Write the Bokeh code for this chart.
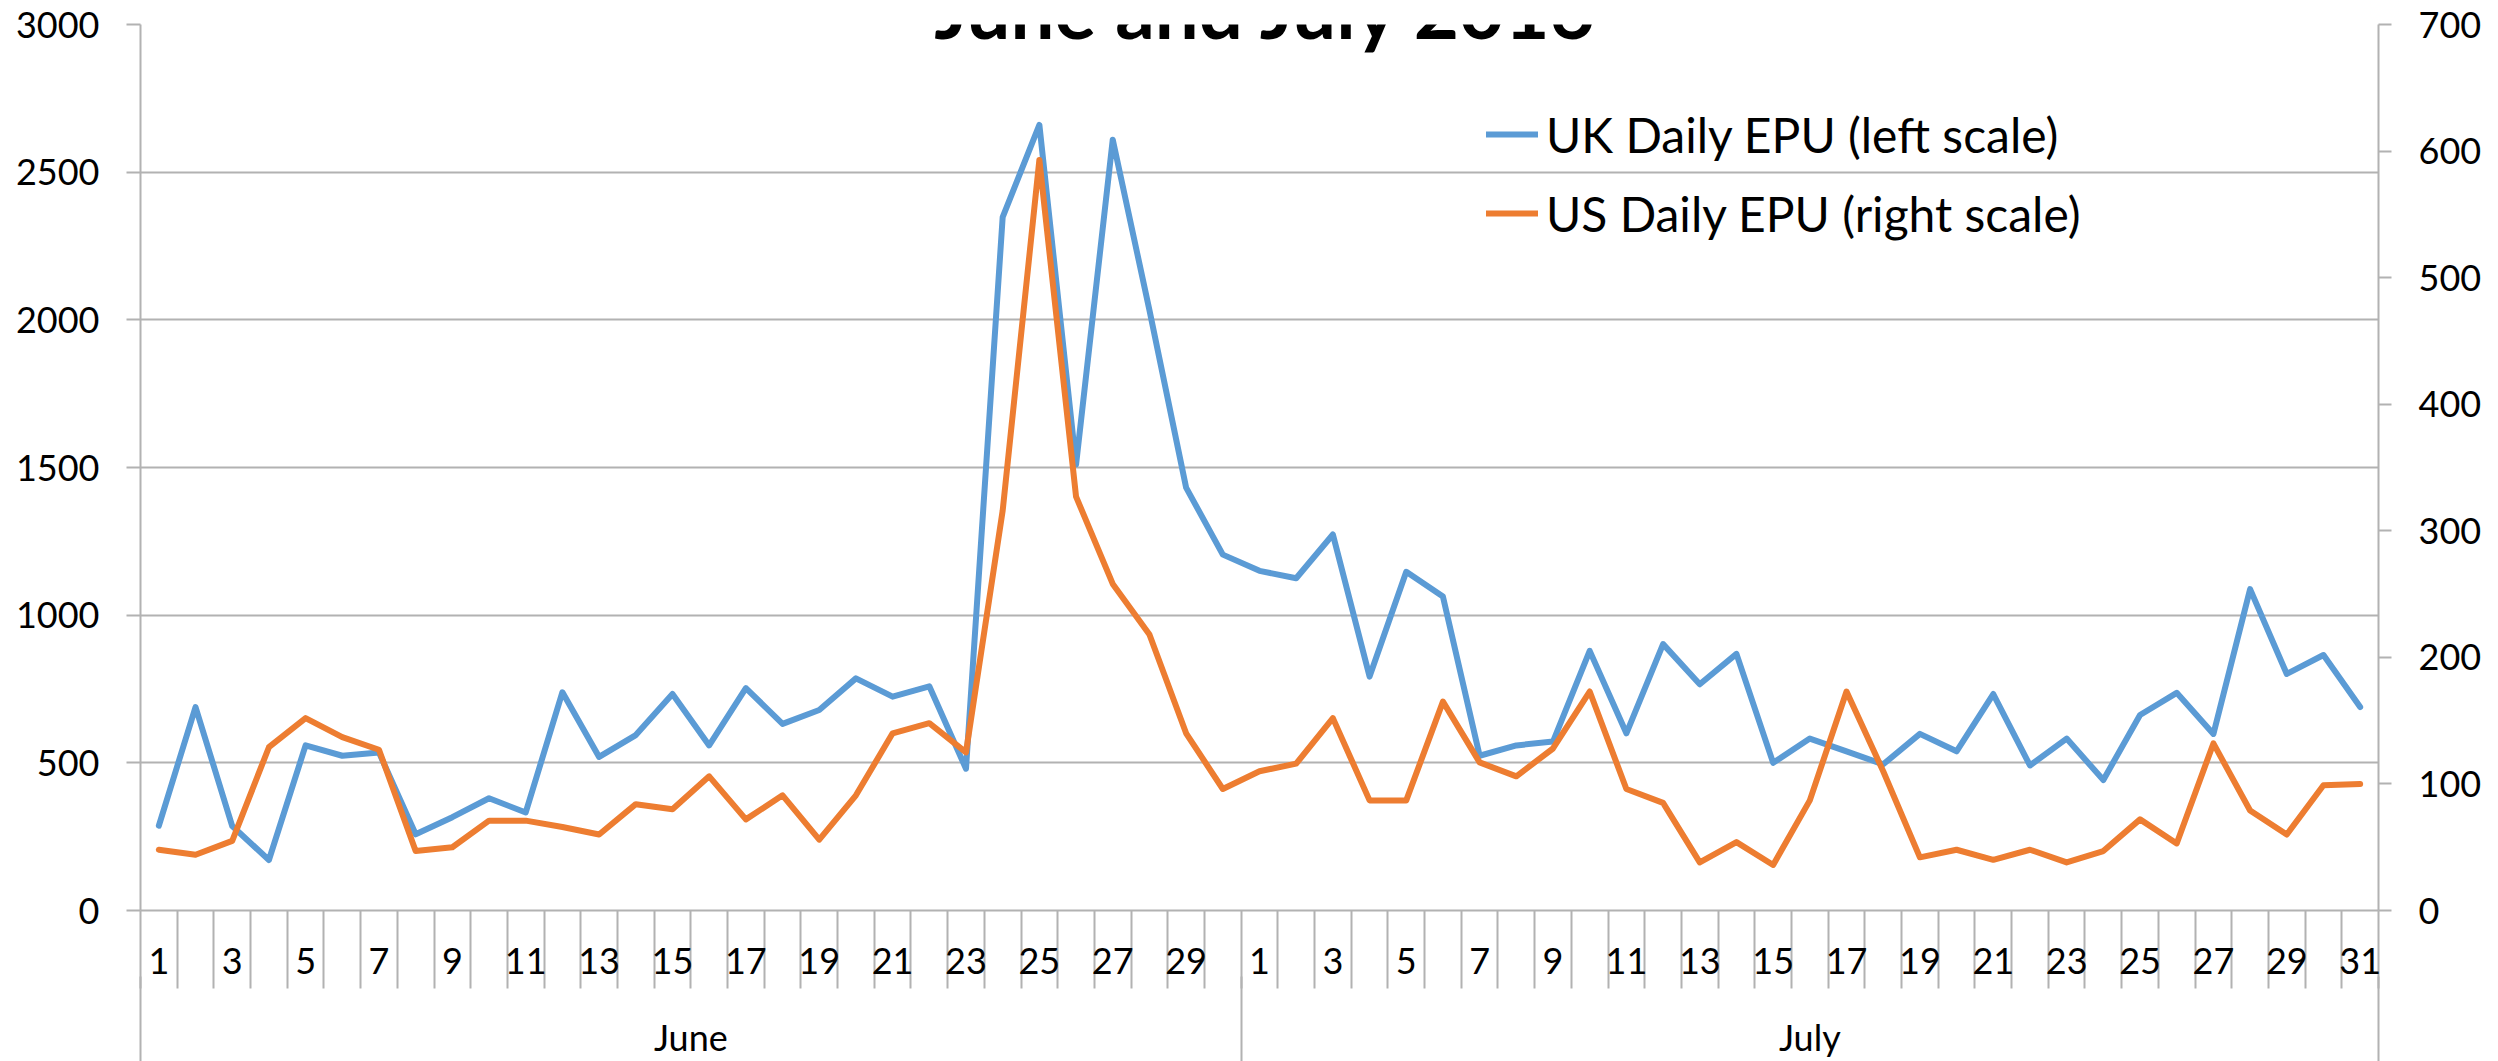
from bokeh.plotting import figure
from bokeh.models import (Range1d, LinearAxis, FixedTicker, Legend, LegendItem,
                          Label, ColumnDataSource)
from bokeh.embed import file_html
from bokeh.resources import INLINE

# ---- data -------------------------------------------------------------
months = ["June"] * 30 + ["July"] * 31
days = list(range(1, 31)) + list(range(1, 32))
uk_epu = [287, 689, 286, 171, 559, 524, 535, 258, 316, 380,
          332, 739, 520, 594, 733, 559, 753, 632, 679, 786,
          724, 759, 480, 2348, 2660, 1510, 2610, 2033, 1432, 1205,
          1150, 1125, 1273, 792, 1147, 1063, 524, 559, 572, 879,
          600, 902, 766, 869, 500, 582, 539, 495, 598, 539,
          733, 491, 582, 442, 662, 737, 598, 1088, 801, 865, 689]
us_epu = [48, 44, 55, 129, 152, 137, 127, 47, 50, 71,
          71, 66, 60, 84, 80, 106, 72, 91, 56, 91,
          140, 148, 125, 316, 593, 327, 258, 218, 140, 96,
          110, 116, 152, 87, 87, 165, 117, 106, 128, 173,
          96, 85, 38, 54, 36, 87, 173, 110, 42, 48,
          40, 48, 38, 47, 72, 53, 132, 79, 60, 99, 100]
left_ticks = [0, 500, 1000, 1500, 2000, 2500, 3000]
right_ticks = [0, 100, 200, 300, 400, 500, 600, 700]
month_names = ["June", "July"]
series_labels = ["UK Daily EPU (left scale)", "US Daily EPU (right scale)"]
title_text = "June and July 2016"

# ---- derived positions (category index) ---------------------------------
n = len(days)
xs = list(range(1, n + 1))
day_ticks = [i for i, d in zip(xs, days) if d % 2 == 1]
day_labels = {i: str(d) for i, d in zip(xs, days) if d % 2 == 1}
boundaries = [i + 0.5 for i in range(0, n + 1)]
month_centers = []
month_bounds = [0.5]
for m in month_names:
    idx = [i for i, mm in zip(xs, months) if mm == m]
    month_centers.append((min(idx) + max(idx)) / 2)
    month_bounds.append(max(idx) + 0.5)

src = ColumnDataSource(dict(x=xs, uk=uk_epu, us=us_epu))

GRID = "#B2B2B2"
FONT = "Lato"

p = figure(width=2498, height=1061, output_backend="svg", toolbar_location=None,
           x_range=Range1d(0.5, n + 0.5), y_range=Range1d(left_ticks[0], left_ticks[-1]),
           min_border_left=140, min_border_right=120, min_border_top=24,
           min_border_bottom=149)
p.outline_line_color = None
p.background_fill_color = "white"
p.border_fill_color = "white"
p.extra_y_ranges = {"right": Range1d(right_ticks[0], right_ticks[-1])}

# left axis
ya = p.yaxis[0]
ya.ticker = FixedTicker(ticks=left_ticks)
ya.major_tick_out = 14
ya.major_tick_in = 0
ya.minor_tick_out = 0
ya.minor_tick_in = 0
ya.major_label_standoff = 27
ya.axis_line_color = GRID
ya.axis_line_width = 2
ya.major_tick_line_color = GRID
ya.major_tick_line_width = 2
ya.major_label_text_font = FONT
ya.major_label_text_font_size = "36px"
ya.major_label_text_color = "black"

p.xgrid.visible = False
p.ygrid.grid_line_color = GRID
p.ygrid.grid_line_width = 2

# right axis
ra = LinearAxis(y_range_name="right", ticker=FixedTicker(ticks=right_ticks))
ra.major_tick_out = 13
ra.major_tick_in = 0
ra.minor_tick_out = 0
ra.minor_tick_in = 0
ra.major_label_standoff = 27
ra.axis_line_color = GRID
ra.axis_line_width = 2
ra.major_tick_line_color = GRID
ra.major_tick_line_width = 2
ra.major_label_text_font = FONT
ra.major_label_text_font_size = "36px"
ra.major_label_text_color = "black"
p.add_layout(ra, "right")

# day axis (ticks between categories drawn outward without enlarging the panel)
xa = p.xaxis[0]
xa.ticker = FixedTicker(ticks=day_ticks, minor_ticks=boundaries)
xa.major_label_overrides = day_labels
xa.major_tick_out = 0
xa.major_tick_in = 0
xa.major_tick_line_color = None
xa.minor_tick_out = 0
xa.minor_tick_in = -78
xa.minor_tick_line_color = GRID
xa.minor_tick_line_width = 2
xa.axis_line_color = GRID
xa.axis_line_width = 2
xa.major_label_standoff = 37
xa.major_label_text_font = FONT
xa.major_label_text_font_size = "36px"
xa.major_label_text_color = "black"

# month axis: group labels + long separators at month boundaries
ma = LinearAxis(ticker=FixedTicker(ticks=month_centers, minor_ticks=month_bounds))
ma.major_label_overrides = {c: m for c, m in zip(month_centers, month_names)}
ma.axis_line_color = None
ma.major_tick_line_color = None
ma.major_tick_out = 0
ma.major_tick_in = 0
ma.minor_tick_line_color = GRID
ma.minor_tick_line_width = 2
ma.minor_tick_in = -160
ma.minor_tick_out = 0
ma.major_label_standoff = 38
ma.major_label_text_font = FONT
ma.major_label_text_font_size = "36px"
ma.major_label_text_color = "black"
p.add_layout(ma, "below")

r_uk = p.line("x", "uk", source=src, line_color="#5B9BD5", line_width=6,
              line_join="round", line_cap="round")
r_us = p.line("x", "us", source=src, y_range_name="right", line_color="#ED7D31",
              line_width=6, line_join="round", line_cap="round")

legend = Legend(items=[LegendItem(label=series_labels[0], renderers=[r_uk]),
                       LegendItem(label=series_labels[1], renderers=[r_us])],
                location=(1346, 667), orientation="vertical",
                border_line_color=None, background_fill_alpha=0,
                padding=0, margin=0, spacing=19,
                glyph_width=52, glyph_height=60, label_height=60,
                label_standoff=8,
                label_text_font=FONT, label_text_font_size="48px",
                label_text_color="black")
p.add_layout(legend)

# chart title: only its lower edge shows at the top of the picture, as in the source
title = Label(x=1126, y=902, x_units="screen", y_units="screen", text=title_text,
              text_font=FONT, text_font_style="bold", text_font_size="78px",
              text_align="center", text_baseline="alphabetic", text_color="black")
p.add_layout(title)

open("out.html", "w").write(file_html(p, INLINE))
